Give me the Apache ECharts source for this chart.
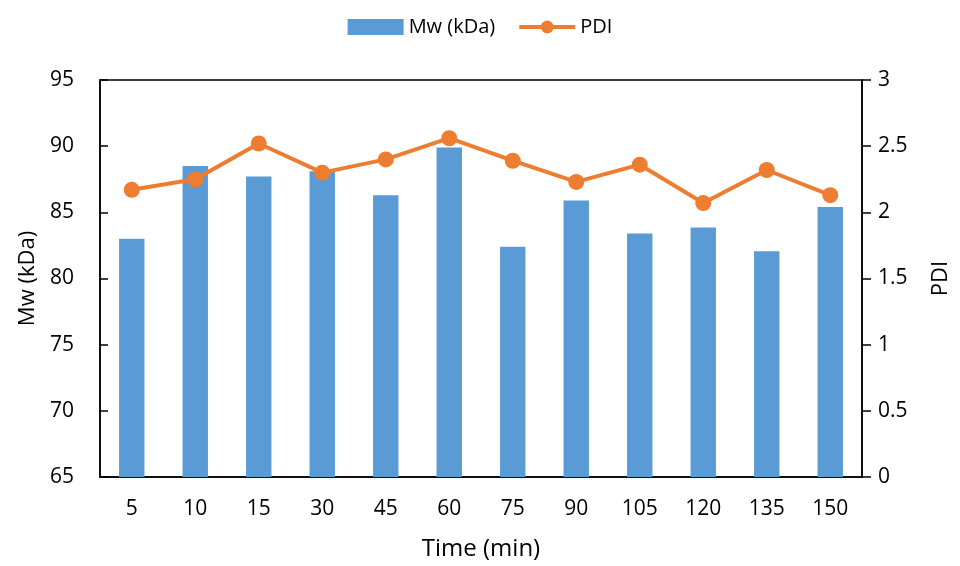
<!DOCTYPE html>
<html><head><meta charset="utf-8">
<script src="https://cdn.jsdelivr.net/npm/echarts@6/dist/echarts.min.js"></script>
<style>html,body{margin:0;padding:0;background:#fff}#c{width:960px;height:566px}</style>
</head><body><div id="c"></div>
<script>
const categories = ['5','10','15','30','45','60','75','90','105','120','135','150'];
const mwValues = [83.0, 88.5, 87.7, 88.1, 86.3, 89.9, 82.4, 85.9, 83.4, 83.85, 82.05, 85.4];
const pdiValues = [2.17, 2.25, 2.52, 2.30, 2.40, 2.56, 2.39, 2.23, 2.36, 2.07, 2.32, 2.13];
const FONT = '"Open Sans", "Noto Sans", sans-serif';
const chart = echarts.init(document.getElementById('c'));
chart.setOption({
  animation: false,
  textStyle: { fontFamily: FONT, color: '#000' },
  legend: {
    top: 12, left: 'center', itemGap: 22, itemWidth: 56, itemHeight: 16,
    textStyle: { fontFamily: FONT, fontSize: 20, color: '#000' },
    lineStyle: { width: 4 },
    data: [{ name: 'Mw (kDa)', icon: 'rect', itemStyle: { color: '#5B9BD5' } }, { name: 'PDI' }]
  },
  grid: { left: 100, right: 90, top: 80, bottom: 88, show: true, borderColor: '#000', borderWidth: 1.5 },
  xAxis: {
    type: 'category', data: categories,
    name: 'Time (min)', nameLocation: 'middle', nameGap: 60,
    nameTextStyle: { fontFamily: FONT, fontSize: 24, color: '#000' },
    axisLine: { lineStyle: { color: '#000', width: 1.5 } },
    axisTick: { show: false },
    axisLabel: { fontFamily: FONT, fontSize: 21, color: '#000', margin: 22 }
  },
  yAxis: [{
    type: 'value', min: 65, max: 95, interval: 5, position: 'left',
    name: 'Mw (kDa)', nameLocation: 'middle', nameGap: 58, nameRotate: 90,
    nameTextStyle: { fontFamily: FONT, fontSize: 22, color: '#000' },
    axisLine: { show: true, lineStyle: { color: '#000', width: 1.5 } },
    axisTick: { show: true, inside: true, length: 8, lineStyle: { color: '#000', width: 1.5 } },
    axisLabel: { fontFamily: FONT, fontSize: 21, color: '#000', margin: 26 },
    splitLine: { show: false }
  }, {
    type: 'value', min: 0, max: 3, interval: 0.5, position: 'right',
    name: 'PDI', nameLocation: 'middle', nameGap: 68, nameRotate: 90,
    nameTextStyle: { fontFamily: FONT, fontSize: 22, color: '#000' },
    axisLine: { show: true, lineStyle: { color: '#000', width: 1.5 } },
    axisTick: { show: true, inside: false, length: 9, lineStyle: { color: '#000', width: 1.5 } },
    axisLabel: { fontFamily: FONT, fontSize: 21, color: '#000', margin: 16 },
    splitLine: { show: false }
  }],
  series: [{
    name: 'Mw (kDa)', type: 'bar', data: mwValues, yAxisIndex: 0,
    barWidth: '40%', itemStyle: { color: '#5B9BD5' }
  }, {
    name: 'PDI', type: 'line', data: pdiValues, yAxisIndex: 1,
    symbol: 'circle', symbolSize: 16,
    lineStyle: { color: '#ED7D31', width: 4 },
    itemStyle: { color: '#ED7D31' }
  }]
});
</script></body></html>
